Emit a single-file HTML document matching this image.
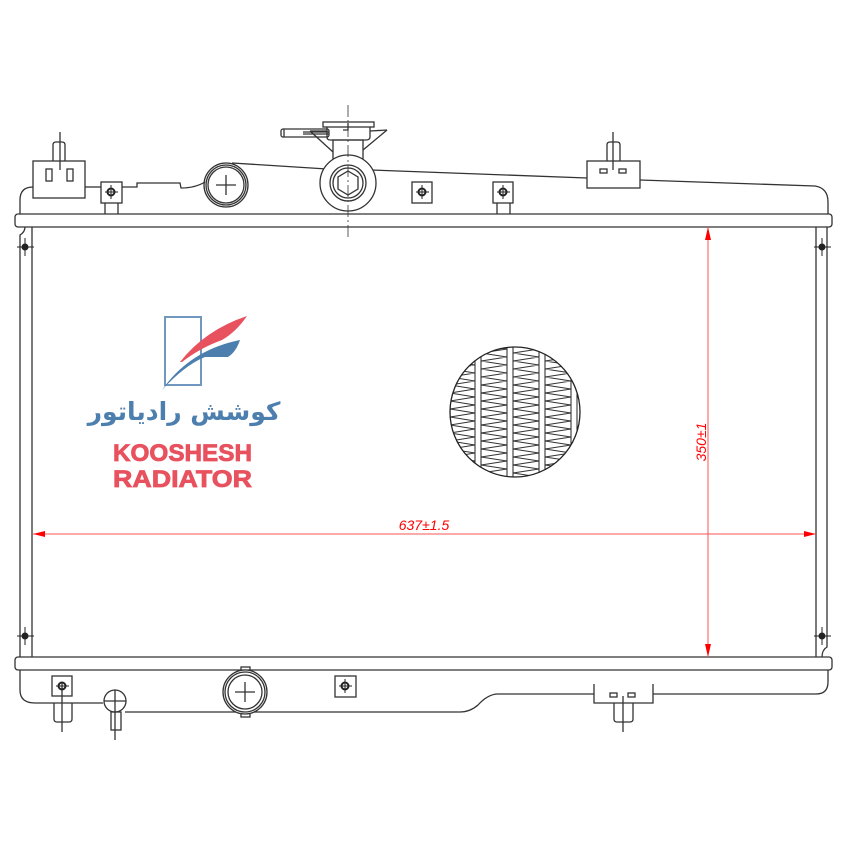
<!DOCTYPE html>
<html><head><meta charset="utf-8"><style>
html,body{margin:0;padding:0;background:#fff;}
svg{display:block;}
</style></head><body>
<svg width="848" height="848" viewBox="0 0 848 848" xmlns="http://www.w3.org/2000/svg">
<defs>
<clipPath id="cc"><circle cx="515" cy="412" r="65"/></clipPath>
</defs>
<rect width="848" height="848" fill="#fff"/>
<g fill="none" stroke="#333" stroke-width="1.3">
<path d="M20,214 L20,200 Q20,187 33,187"/>
<rect x="33" y="161" width="52" height="37" fill="#fff"/>
<line x1="60" y1="132" x2="60" y2="170"/>
<path d="M53,161 L53,145 Q53,142 56,142 L62,142 Q65,142 65,145 L65,161"/>
<rect x="46" y="169" width="6" height="12"/><rect x="67" y="169" width="6" height="12"/>
<line x1="85" y1="187" x2="101" y2="187"/>
<rect x="101" y="182" width="21" height="21"/>
<line x1="105" y1="203" x2="105" y2="214"/><line x1="118" y1="203" x2="118" y2="214"/>
<path d="M122,187 L137,187 L137,183 L180,183 L181,188 Q195,188 205,182"/>
<circle cx="226" cy="185" r="22"/><circle cx="226" cy="185" r="20"/><circle cx="226" cy="185" r="18"/>
<line x1="216" y1="185" x2="236" y2="185"/><line x1="226" y1="175" x2="226" y2="195"/>
<line x1="232" y1="163" x2="327" y2="169"/>
<line x1="371" y1="170" x2="587" y2="178"/>
<line x1="640" y1="180" x2="815" y2="186"/>
<path d="M815,186 Q828,188 828,202 L828,214"/>
<rect x="587" y="161" width="53" height="27" fill="#fff"/>
<line x1="613" y1="132" x2="613" y2="170"/>
<path d="M607,161 L607,145 Q607,142 610,142 L617,142 Q620,142 620,145 L620,161"/>
<rect x="600" y="169" width="7" height="4"/><rect x="619" y="169" width="7" height="4"/>
<rect x="412" y="182" width="20" height="21"/>
<rect x="493" y="182" width="20" height="21"/>
<line x1="497" y1="203" x2="497" y2="214"/><line x1="510" y1="203" x2="510" y2="214"/>
<path d="M333,163 L333,140 L363,140 L363,163"/>
<path d="M310,131 L333,152 M387,130 L363,150 M310,131 L327,131 M370,131 L387,130"/>
<path d="M327,127 L327,137 Q327,140 330,140 L366,140 Q370,140 370,137 L370,127"/>
<rect x="323" y="122" width="51" height="5"/>
<path d="M348,123 L348,130 L343,130"/>
<rect x="281" y="129" width="48" height="8" rx="2"/>
<line x1="284" y1="129" x2="284" y2="137"/>
<line x1="303" y1="132" x2="329" y2="132"/><line x1="303" y1="134" x2="329" y2="134"/>
<circle cx="348" cy="183" r="28" fill="#fff"/><circle cx="348" cy="183" r="18"/><circle cx="348" cy="183" r="15"/>
<polygon points="348,171 358,177 358,189 348,195 338,189 338,177"/>
<rect x="15" y="214" width="817" height="13" rx="3" fill="#fff"/>
<rect x="15" y="657" width="817" height="13" rx="3" fill="#fff"/>
<path d="M25,227 Q25,232 20,235 L20,657"/><line x1="32" y1="227" x2="32" y2="657"/>
<path d="M822,657 Q822,650 827,647 L827,227"/><line x1="816" y1="227" x2="816" y2="657"/>
<path d="M20,670 L20,690 Q20,703 35,703 L103,703"/>
<path d="M125,712 L460,712 Q470,712 478,705 Q488,694 498,694 L594,694"/>
<path d="M653,694 L816,694 Q828,694 828,682 L828,670"/>
<path d="M594,684 L594,703 L653,703 L653,684"/>
<rect x="610" y="693" width="7" height="4"/><rect x="628" y="693" width="7" height="4"/>
<path d="M614,703 L614,719 Q614,722 617,722 L630,722 Q633,722 633,719 L633,703"/>
<line x1="623" y1="696" x2="623" y2="732"/>
<rect x="52" y="676" width="20" height="20"/>
<path d="M54,703 L54,719 Q54,722 57,722 L69,722 Q72,722 72,719 L72,703"/>
<line x1="62" y1="683" x2="62" y2="732"/>
<circle cx="115" cy="701" r="11" fill="#fff"/>
<line x1="104" y1="701" x2="126" y2="701"/><line x1="115" y1="690" x2="115" y2="740"/>
<rect x="111" y="712" width="10" height="18"/>
<rect x="241" y="667" width="9" height="5"/><rect x="241" y="712" width="9" height="5"/>
<circle cx="245" cy="692" r="22" fill="#fff"/><circle cx="245" cy="692" r="20"/><circle cx="245" cy="692" r="17"/>
<line x1="235" y1="692" x2="255" y2="692"/><line x1="245" y1="682" x2="245" y2="702"/>
<rect x="335" y="676" width="21" height="21"/>
<line x1="348" y1="105" x2="348" y2="240" stroke-dasharray="12,3,2,3" stroke-width="0.8"/>
</g>
<g fill="#222" stroke="#222" stroke-width="1">
<circle cx="111" cy="192" r="3.5" fill="none" stroke-width="2"/><line x1="105" y1="192" x2="118" y2="192"/><line x1="111" y1="185" x2="111" y2="199"/>
<circle cx="422" cy="192" r="3.5" fill="none" stroke-width="2"/><line x1="416" y1="192" x2="429" y2="192"/><line x1="422" y1="185" x2="422" y2="199"/>
<circle cx="503" cy="192" r="3.5" fill="none" stroke-width="2"/><line x1="497" y1="192" x2="510" y2="192"/><line x1="503" y1="185" x2="503" y2="199"/>
<circle cx="62" cy="686" r="3.5" fill="none" stroke-width="2"/><line x1="56" y1="686" x2="69" y2="686"/>
<circle cx="345" cy="686" r="3.5" fill="none" stroke-width="2"/><line x1="339" y1="686" x2="352" y2="686"/><line x1="345" y1="679" x2="345" y2="693"/>
<circle cx="25" cy="247" r="3"/><line x1="17" y1="247" x2="34" y2="247"/><line x1="25" y1="238" x2="25" y2="256"/>
<circle cx="25" cy="636" r="3"/><line x1="17" y1="636" x2="34" y2="636"/><line x1="25" y1="627" x2="25" y2="645"/>
<circle cx="822" cy="247" r="3"/><line x1="814" y1="247" x2="831" y2="247"/><line x1="822" y1="238" x2="822" y2="256"/>
<circle cx="822" cy="636" r="3"/><line x1="814" y1="636" x2="831" y2="636"/><line x1="822" y1="627" x2="822" y2="645"/>
</g>
<g clip-path="url(#cc)" fill="none" stroke="#333" stroke-width="0.9">
<path d="M450,345 l25,4 l-25,4 l25,4 l-25,4 l25,4 l-25,4 l25,4 l-25,4 l25,4 l-25,4 l25,4 l-25,4 l25,4 l-25,4 l25,4 l-25,4 l25,4 l-25,4 l25,4 l-25,4 l25,4 l-25,4 l25,4 l-25,4 l25,4 l-25,4 l25,4 l-25,4 l25,4 l-25,4 l25,4 l-25,4 l25,4 l-25,4"/>
<path d="M481,345 l26,4 l-26,4 l26,4 l-26,4 l26,4 l-26,4 l26,4 l-26,4 l26,4 l-26,4 l26,4 l-26,4 l26,4 l-26,4 l26,4 l-26,4 l26,4 l-26,4 l26,4 l-26,4 l26,4 l-26,4 l26,4 l-26,4 l26,4 l-26,4 l26,4 l-26,4 l26,4 l-26,4 l26,4 l-26,4 l26,4 l-26,4"/>
<path d="M513,345 l26,4 l-26,4 l26,4 l-26,4 l26,4 l-26,4 l26,4 l-26,4 l26,4 l-26,4 l26,4 l-26,4 l26,4 l-26,4 l26,4 l-26,4 l26,4 l-26,4 l26,4 l-26,4 l26,4 l-26,4 l26,4 l-26,4 l26,4 l-26,4 l26,4 l-26,4 l26,4 l-26,4 l26,4 l-26,4 l26,4 l-26,4"/>
<path d="M545,345 l26,4 l-26,4 l26,4 l-26,4 l26,4 l-26,4 l26,4 l-26,4 l26,4 l-26,4 l26,4 l-26,4 l26,4 l-26,4 l26,4 l-26,4 l26,4 l-26,4 l26,4 l-26,4 l26,4 l-26,4 l26,4 l-26,4 l26,4 l-26,4 l26,4 l-26,4 l26,4 l-26,4 l26,4 l-26,4 l26,4 l-26,4"/>
<g fill="#fff" stroke="#222" stroke-width="1">
<rect x="475" y="340" width="6" height="150"/>
<rect x="507" y="340" width="6" height="150"/>
<rect x="539" y="340" width="6" height="150"/>
<rect x="571" y="340" width="6" height="150"/>
</g>
</g>
<circle cx="515" cy="412" r="65" fill="none" stroke="#222" stroke-width="1.3"/>
<rect x="165" y="317" width="36" height="68" fill="none" stroke="#6f97bf" stroke-width="2"/>
<path d="M180,362 Q205,330 247,316 Q236,332 222,340 Q200,348 182,362 Z" fill="#e8515e"/>
<path d="M162,390 Q190,350 240,340 Q236,352 228,357 L205,357 Q185,365 162,390 Z" fill="#4d7fae"/>
<text x="184" y="420" text-anchor="middle" font-family="'DejaVu Sans',sans-serif" font-size="25" font-weight="bold" fill="#4d7fae" direction="rtl">کوشش رادیاتور</text>
<text x="113" y="461" font-family="'Liberation Sans',sans-serif" font-size="24" font-weight="bold" fill="#e8515e" stroke="#e8515e" stroke-width="0.8" textLength="139" lengthAdjust="spacingAndGlyphs">KOOSHESH</text>
<text x="113" y="487" font-family="'Liberation Sans',sans-serif" font-size="24" font-weight="bold" fill="#e8515e" stroke="#e8515e" stroke-width="0.8" textLength="139" lengthAdjust="spacingAndGlyphs">RADIATOR</text>
<g stroke="#f55" stroke-width="1" fill="red">
<line x1="33" y1="534" x2="816" y2="534"/>
<line x1="708" y1="227" x2="708" y2="657"/>
<polygon points="33,534 45,531 45,537" stroke="none"/>
<polygon points="816,534 804,531 804,537" stroke="none"/>
<polygon points="708,227 705,240 711,240" stroke="none"/>
<polygon points="708,657 705,644 711,644" stroke="none"/>
</g>
<text x="424" y="530" text-anchor="middle" font-family="'Liberation Sans',sans-serif" font-style="italic" font-size="14" fill="red">637±1.5</text>
<text transform="translate(706,442) rotate(-90)" text-anchor="middle" font-family="'Liberation Sans',sans-serif" font-style="italic" font-size="14" fill="red">350±1</text>
</svg>
</body></html>
